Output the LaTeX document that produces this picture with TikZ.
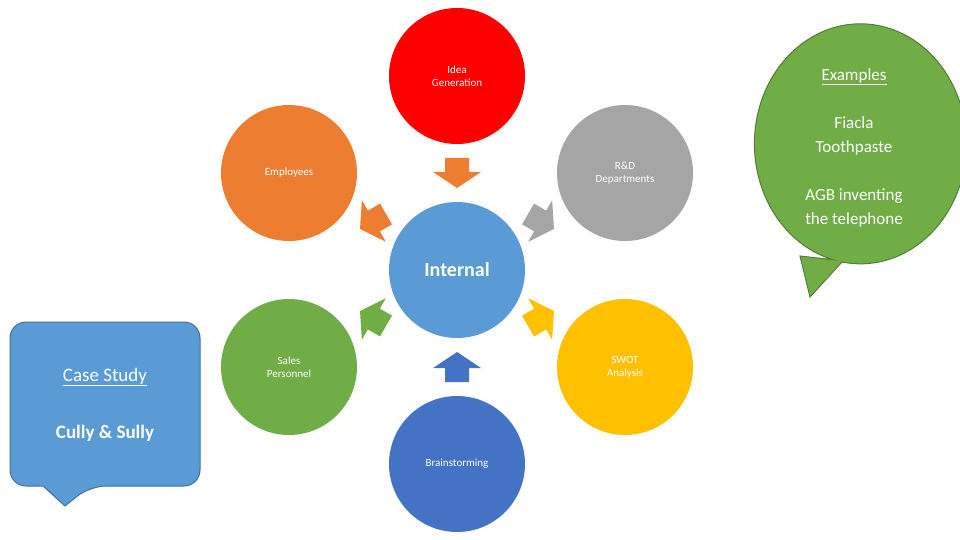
\documentclass[tikz,border=0pt]{standalone}
\usepackage{fontspec}
\setmainfont{Carlito}
\usetikzlibrary{calc}
\definecolor{cred}{HTML}{FF0000}
\definecolor{corange}{HTML}{ED7D31}
\definecolor{cgray}{HTML}{A5A5A5}
\definecolor{cblue}{HTML}{5B9BD5}
\definecolor{cgreen}{HTML}{70AD47}
\definecolor{cgold}{HTML}{FFC000}
\definecolor{cdblue}{HTML}{4472C4}
\definecolor{cgreenb}{HTML}{507E32}
\definecolor{cblueb}{HTML}{41719C}
\begin{document}
\begin{tikzpicture}[x=1pt,y=-1pt,
  circ/.style={circle,minimum size=136pt,inner sep=0pt,text=white,align=center,font=\fontsize{11}{13}\selectfont},
  blockarrow/.style={fill=#1,draw=none}]
\useasboundingbox (0,0) rectangle (960,540);
\node[circ,fill=cred] (idea) at (457,76) {Idea\\Generation};
\node[circ,fill=corange] (emp) at (289,173) {\hspace*{0pt}Employees};
\node[circ,fill=cgray] (rd) at (625,173) {R\&D\\Departments};
\node[circ,fill=cblue,font=\bfseries\fontsize{20}{24}\selectfont] (int) at (457,270) {Internal};
\node[circ,fill=cgreen] (sales) at (289,367) {Sales\\Personnel};
\node[circ,fill=cgold] (swot) at (625,367) {SWOT\\Analysis};
\node[circ,fill=cdblue] (brain) at (457,464) {Brainstorming};
% block arrows: pointing from int towards target
\foreach \t/\c in {idea/corange,emp/corange,rd/cgray,sales/cgreen,swot/cgold,brain/cdblue}{
  \path let \p1=($(\t)-(int)$), \n1={atan2(\y1,\x1)} in
    coordinate (m) at ($(int)!0.5!(\t)$)
    [fill=\c] ($(m)+(\n1:-15)+(\n1+90:12)$) -- ($(m)+(\n1:-1)+(\n1+90:12)$)
    -- ($(m)+(\n1:-1)+(\n1+90:24)$) -- ($(m)+(\n1:15)$)
    -- ($(m)+(\n1:-1)+(\n1-90:24)$) -- ($(m)+(\n1:-1)+(\n1-90:12)$)
    -- ($(m)+(\n1:-15)+(\n1-90:12)$) -- cycle;
}
% green callout
\path[fill=cgreen,draw=cgreenb,line width=1pt]
  (800,256) -- (810,297) -- (842,262)
  arc[start angle=100,end angle=-255,x radius=106,y radius=120] -- cycle;
\node[text=white,font=\fontsize{17}{20}\selectfont] (ex) at (854,77) {\underline{Examples}};
\node[text=white,font=\fontsize{17}{24}\selectfont,align=center] (fi) at (854,136) {Fiacla\\Toothpaste};
\node[text=white,font=\fontsize{17}{24}\selectfont,align=center] (agb) at (854,208) {AGB inventing\\the telephone};
% blue callout
\path[fill=cblue,draw=cblueb,line width=1pt,rounded corners=16pt]
  (10,322) -- (200,322) -- (200,486) -- (90,486) [sharp corners] -- (65,506) -- (43,486) [rounded corners=16pt] -- (10,486) -- cycle;
\node[text=white,font=\fontsize{19}{22}\selectfont] (cs) at (105,377) {\underline{Case Study}};
\node[text=white,font=\bfseries\fontsize{19}{22}\selectfont] (cu) at (105,433) {Cully \& Sully};
\end{tikzpicture}
\end{document}
